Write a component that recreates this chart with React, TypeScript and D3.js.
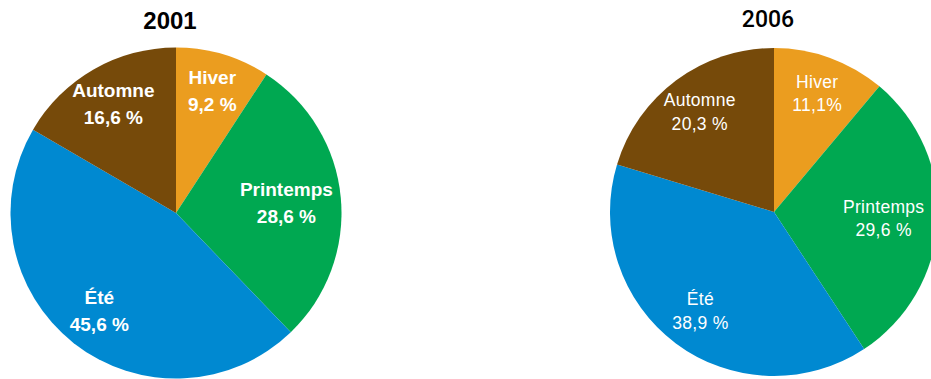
import React from "react";
import * as d3 from "d3";

const seasons = ["Hiver", "Printemps", "Été", "Automne"];
const values2001 = [9.2, 28.6, 45.6, 16.6];
const values2006 = [11.1, 29.6, 38.9, 20.3];
const labels2001 = ["9,2 %", "28,6 %", "45,6 %", "16,6 %"];
const labels2006 = ["11,1%", "29,6 %", "38,9 %", "20,3 %"];
const years = ["2001", "2006"];

const colors: Record<string, string> = {
  Hiver: "#EB9D1F",
  Printemps: "#00A851",
  "Été": "#0089D1",
  Automne: "#764A0A",
};

const labelFactor: Record<string, number> = {
  Hiver: 0.77,
  Printemps: 0.67,
  "Été": 0.75,
  Automne: 0.76,
};

type PieProps = {
  cx: number;
  cy: number;
  r: number;
  values: number[];
  valueLabels: string[];
  title: string;
  titleY: number;
  titleX: number;
  titleStyle: React.CSSProperties;
  labelStyle: React.CSSProperties;
  lineGap: number;
  capHalf: number;
};

function Pie(p: PieProps) {
  const data = seasons.map((s, i) => ({ season: s, value: p.values[i], label: p.valueLabels[i] }));
  const pie = d3
    .pie<{ season: string; value: number; label: string }>()
    .sort(null)
    .value((d) => d.value);
  const arcs = pie(data);
  const arc = d3
    .arc<d3.PieArcDatum<{ season: string; value: number; label: string }>>()
    .innerRadius(0)
    .outerRadius(p.r);
  return (
    <g>
      <text x={p.titleX} y={p.titleY} textAnchor="middle" style={p.titleStyle}>
        {p.title}
      </text>
      <g transform={`translate(${p.cx},${p.cy})`}>
        {arcs.map((a) => (
          <path key={a.data.season} d={arc(a) || ""} fill={colors[a.data.season]} />
        ))}
        {arcs.map((a) => {
          const lr = p.r * labelFactor[a.data.season];
          const lab = d3.arc<any>().innerRadius(lr).outerRadius(lr);
          const [x, y] = lab.centroid(a as any);
          return (
            <g key={"l" + a.data.season} style={p.labelStyle}>
              <text x={x} y={y - p.lineGap / 2 + p.capHalf} textAnchor="middle" fill="#fff">
                {a.data.season}
              </text>
              <text x={x} y={y + p.lineGap / 2 + p.capHalf} textAnchor="middle" fill="#fff">
                {a.data.label}
              </text>
            </g>
          );
        })}
      </g>
    </g>
  );
}

export default function App() {
  return (
    <svg
      width={931}
      height={379}
      style={{ position: "absolute", left: 0, top: 0, background: "#fff" }}
    >
      <Pie
        cx={176}
        cy={213}
        r={165.5}
        values={values2001}
        valueLabels={labels2001}
        title={years[0]}
        titleX={170}
        titleY={29}
        titleStyle={{ fontFamily: "Liberation Sans, Arial, sans-serif", fontWeight: 700, fontSize: 24 }}
        labelStyle={{ fontFamily: "Liberation Sans, Arial, sans-serif", fontWeight: 700, fontSize: 19 }}
        lineGap={27}
        capHalf={6.8}
      />
      <Pie
        cx={774}
        cy={212}
        r={164}
        values={values2006}
        valueLabels={labels2006}
        title={years[1]}
        titleX={768}
        titleY={27}
        titleStyle={{ fontFamily: "Roboto, Liberation Sans, sans-serif", fontWeight: 500, fontSize: 23 }}
        labelStyle={{ fontFamily: "Liberation Sans, Arial, sans-serif", fontWeight: 400, fontSize: 17.5, letterSpacing: 0.3 }}
        lineGap={23.5}
        capHalf={6.3}
      />
    </svg>
  );
}
